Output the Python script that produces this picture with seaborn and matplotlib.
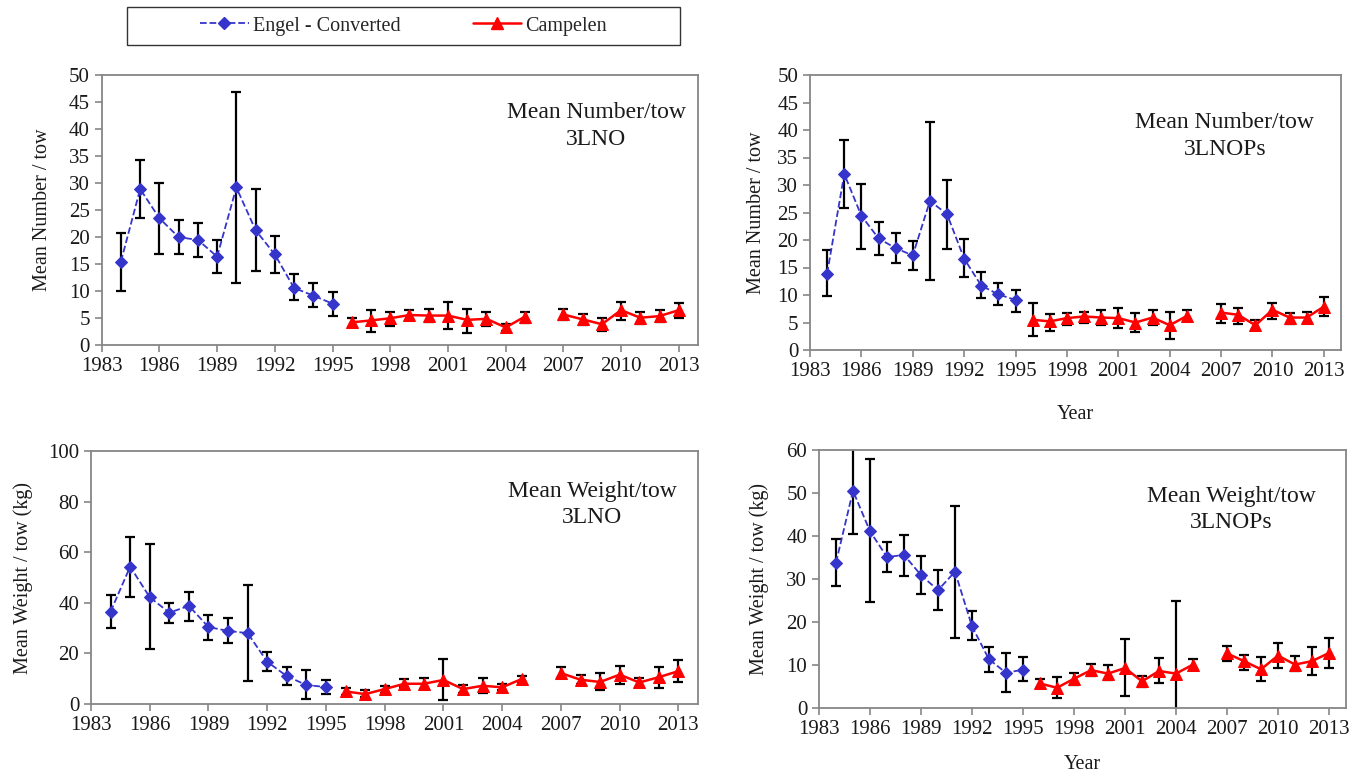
import matplotlib
matplotlib.use("Agg")
import matplotlib.pyplot as plt
from matplotlib.patches import Rectangle
from matplotlib.lines import Line2D
import pandas as pd
import seaborn as sns


# years
engel_years = list(range(1984, 1996))
campelen_years = list(range(1996, 2006)) + list(range(2007, 2014))
campelen_run = [1] * 10 + [2] * 7   # no survey in 2006

# mean number / tow, 3LNO
num_lno_eng = [15.5, 28.9, 23.5, 20.0, 19.5, 16.4, 29.2, 21.3, 16.8, 10.6, 9.2, 7.7]
num_lno_eng_lo = [10.1, 23.6, 16.9, 16.9, 16.3, 13.3, 11.6, 13.8, 13.3, 8.4, 7.1, 5.5]
num_lno_eng_hi = [20.7, 34.2, 30.1, 23.2, 22.7, 19.5, 46.9, 28.9, 20.2, 13.1, 11.5, 9.8]
num_lno_camp = [4.25, 4.6, 5.0, 5.6, 5.5, 5.5, 4.7, 4.9, 3.3, 5.3, 5.7, 4.8, 3.9, 6.5, 5.1, 5.4, 6.5]
num_lno_camp_lo = [3.3, 2.5, 3.5, 4.6, 4.3, 3.1, 2.3, 3.6, 2.7, 4.1, 4.7, 3.8, 2.7, 4.6, 3.9, 4.3, 5.1]
num_lno_camp_hi = [5.1, 6.5, 6.2, 6.6, 6.8, 8.0, 6.8, 6.2, 3.9, 6.2, 6.7, 5.8, 5.1, 8.0, 6.2, 6.5, 7.9]

# mean number / tow, 3LNOPs
num_lnops_eng = [13.9, 32.0, 24.4, 20.3, 18.5, 17.2, 27.1, 24.7, 16.6, 11.7, 10.1, 9.1]
num_lnops_eng_lo = [9.8, 25.8, 18.4, 17.3, 15.9, 14.5, 12.7, 18.3, 13.3, 9.5, 8.1, 7.0]
num_lnops_eng_hi = [18.1, 38.2, 30.1, 23.2, 21.2, 19.8, 41.5, 30.9, 20.1, 14.1, 12.1, 11.0]
num_lnops_camp = [5.5, 5.2, 5.8, 6.1, 5.9, 5.8, 5.0, 5.9, 4.5, 6.2, 6.8, 6.4, 4.5, 7.3, 5.9, 5.9, 7.9]
num_lnops_camp_lo = [2.5, 3.4, 4.5, 5.0, 4.5, 4.0, 3.3, 4.5, 2.0, 5.2, 5.0, 4.7, 3.6, 5.6, 4.8, 4.9, 6.1]
num_lnops_camp_hi = [8.5, 6.5, 6.8, 7.0, 7.2, 7.6, 6.7, 7.2, 7.0, 7.3, 8.4, 7.6, 5.5, 8.6, 6.8, 7.0, 9.7]

# mean weight / tow (kg), 3LNO
wt_lno_eng = [36.5, 54.3, 42.2, 36.1, 38.8, 30.4, 28.9, 28.0, 16.7, 11.0, 7.5, 6.7]
wt_lno_eng_lo = [30.0, 42.4, 21.6, 31.9, 33.0, 25.2, 24.0, 8.9, 12.9, 7.5, 2.0, 3.9]
wt_lno_eng_hi = [43.2, 66.1, 63.1, 40.1, 44.4, 35.2, 33.9, 47.0, 20.6, 14.6, 13.4, 9.6]
wt_lno_camp = [5.0, 3.9, 5.9, 8.0, 8.0, 9.5, 5.9, 7.2, 6.6, 9.9, 12.2, 9.6, 8.7, 11.6, 8.5, 10.6, 13.0]
wt_lno_camp_lo = [3.7, 2.6, 4.3, 6.7, 5.8, 1.4, 4.5, 4.3, 5.4, 8.5, 10.1, 8.0, 5.4, 8.1, 6.6, 6.3, 8.5]
wt_lno_camp_hi = [6.3, 5.6, 7.2, 9.7, 10.1, 17.7, 7.5, 10.1, 7.9, 10.9, 14.8, 11.4, 12.1, 15.1, 10.4, 14.7, 17.2]

# mean weight / tow (kg), 3LNOPs
wt_lnops_eng = [33.8, 50.5, 41.1, 35.1, 35.6, 30.9, 27.4, 31.7, 19.0, 11.3, 8.2, 8.9]
wt_lnops_eng_lo = [28.4, 40.5, 24.6, 31.6, 30.8, 26.6, 22.9, 16.2, 15.7, 8.3, 3.7, 6.2]
wt_lnops_eng_hi = [39.2, 61.0, 57.8, 38.7, 40.2, 35.4, 32.0, 47.0, 22.6, 14.2, 12.8, 11.8]
wt_lnops_camp = [5.7, 4.7, 6.8, 8.8, 8.0, 9.3, 6.2, 8.6, 8.0, 10.1, 12.7, 10.9, 9.0, 12.2, 10.1, 10.9, 12.8]
wt_lnops_camp_lo = [4.7, 2.4, 5.4, 7.5, 6.4, 2.8, 5.0, 5.8, -1.0, 8.9, 10.9, 8.8, 6.2, 9.2, 8.5, 7.7, 9.2]
wt_lnops_camp_hi = [6.7, 7.1, 8.2, 10.3, 9.9, 16.1, 7.5, 11.6, 24.9, 11.3, 14.4, 12.3, 11.8, 15.1, 12.0, 14.3, 16.2]

BLUE = "#3535cc"
RED = "#ff0000"
GREY = "#868686"
INK = "#1a1a1a"

sns.set_style("white")
plt.rcParams["font.family"] = ["Liberation Serif", "DejaVu Serif"]

fig = plt.figure(figsize=(13.49, 7.74), dpi=100)


def draw_panel(rect, eng, eng_lo, eng_hi, camp, camp_lo, camp_hi,
               ylim, ystep, ylabel, note, note_xy, ylab_x, xlab_y=None):
    ax = fig.add_axes(rect)

    df_eng = pd.DataFrame({"year": engel_years, "value": eng})
    df_camp = pd.DataFrame({"year": campelen_years, "value": camp, "run": campelen_run})

    # error bars behind markers
    ax.errorbar(engel_years, eng,
                yerr=[[v - lo for v, lo in zip(eng, eng_lo)], [hi - v for v, hi in zip(eng, eng_hi)]],
                fmt="none", ecolor="black", elinewidth=1.6, capsize=3.5, capthick=1.6, zorder=2)
    ax.errorbar(campelen_years, camp,
                yerr=[[v - lo for v, lo in zip(camp, camp_lo)], [hi - v for v, hi in zip(camp, camp_hi)]],
                fmt="none", ecolor="black", elinewidth=1.6, capsize=3.5, capthick=1.6, zorder=2)

    # series
    sns.lineplot(data=df_eng, x="year", y="value", ax=ax, color=BLUE, linestyle="--",
                 linewidth=1.3, marker="D", markersize=6.5, markeredgecolor=BLUE,
                 markerfacecolor=BLUE, zorder=3)
    sns.lineplot(data=df_camp, x="year", y="value", units="run", estimator=None, ax=ax,
                 color=RED, linewidth=1.8, marker="^", markersize=8.5, markeredgecolor=RED,
                 markerfacecolor=RED, zorder=3)

    ax.set_xlim(1983, 2014)
    ax.set_xticks(range(1983, 2014, 3))
    ax.set_ylim(*ylim)
    ax.set_yticks(range(ylim[0], ylim[1] + 1, ystep))

    for sp in ax.spines.values():
        sp.set_visible(True)
        sp.set_color(GREY)
        sp.set_linewidth(1.3)
    ax.tick_params(direction="out", length=5, width=1.2, color=GREY,
                   labelsize=15, labelcolor=INK, left=True, bottom=True)

    ax.set_ylabel(ylabel, fontsize=14.5, color=INK)
    ax.yaxis.set_label_coords(ylab_x, 0.5)
    if xlab_y is None:
        ax.set_xlabel("")
    else:
        ax.set_xlabel("Year", fontsize=14.5, color=INK)
        ax.xaxis.set_label_coords(0.5, xlab_y)

    ax.text(note_xy[0], note_xy[1], note, transform=ax.transAxes, ha="center", va="top",
            fontsize=17, linespacing=1.35, color=INK)
    return ax


W, H = 1349.0, 774.0


def rect_px(left, right, top, bottom):
    return [left / W, 1 - bottom / H, (right - left) / W, (bottom - top) / H]


draw_panel(rect_px(101.7, 698, 75, 345.3), num_lno_eng, num_lno_eng_lo, num_lno_eng_hi,
           num_lno_camp, num_lno_camp_lo, num_lno_camp_hi, (0, 50), 5,
           "Mean Number / tow", "Mean Number/tow\n3LNO", (0.829, 0.90), -0.083)
draw_panel(rect_px(810, 1341, 75, 350), num_lnops_eng, num_lnops_eng_lo, num_lnops_eng_hi,
           num_lnops_camp, num_lnops_camp_lo, num_lnops_camp_hi, (0, 50), 5,
           "Mean Number / tow", "Mean Number/tow\n3LNOPs", (0.781, 0.865), -0.083, -0.2)
draw_panel(rect_px(91, 698, 451, 704), wt_lno_eng, wt_lno_eng_lo, wt_lno_eng_hi,
           wt_lno_camp, wt_lno_camp_lo, wt_lno_camp_hi, (0, 100), 20,
           "Mean Weight / tow (kg)", "Mean Weight/tow\n3LNO", (0.826, 0.882), -0.096)
draw_panel(rect_px(819, 1346, 450, 708), wt_lnops_eng, wt_lnops_eng_lo, wt_lnops_eng_hi,
           wt_lnops_camp, wt_lnops_camp_lo, wt_lnops_camp_hi, (0, 60), 10,
           "Mean Weight / tow (kg)", "Mean Weight/tow\n3LNOPs", (0.783, 0.862), -0.095, -0.182)

# legend box on top
fig.add_artist(Rectangle((127 / W, 1 - 45 / H), 553 / W, 38 / H, transform=fig.transFigure,
                         facecolor="white", edgecolor="#333333", linewidth=1.0))
handles = [
    Line2D([], [], color=BLUE, linestyle="--", linewidth=1.3, marker="D", markersize=6),
    Line2D([], [], color=RED, linewidth=1.8, marker="^", markersize=8),
]
fig.legend(handles, ["Engel - Converted", "Campelen"], loc="center",
           bbox_to_anchor=(403.5 / W, 1 - 26 / H), ncol=2, frameon=False,
           fontsize=14.5, handlelength=2.4, handletextpad=0.2, columnspacing=3.6)

fig.savefig("out.png", dpi=100)
